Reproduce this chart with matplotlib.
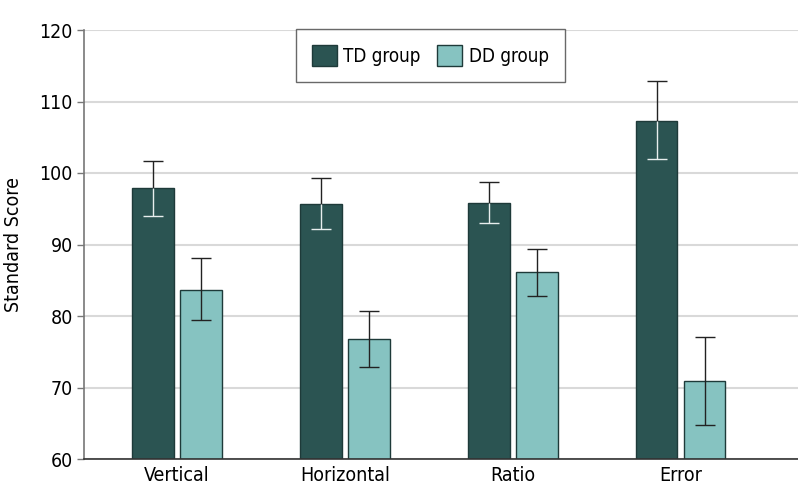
import matplotlib.pyplot as plt
import numpy as np

plt.rcParams['font.family'] = ['DejaVu Sans']
plt.rcParams['font.stretch'] = 'condensed'

categories = ['Vertical', 'Horizontal', 'Ratio', 'Error']
td_mean = [97.9, 95.7, 95.8, 107.3]
td_upper = [101.7, 99.3, 98.7, 112.8]
td_lower = [94.0, 92.2, 93.0, 101.9]
dd_mean = [83.7, 76.8, 86.1, 70.9]
dd_upper = [88.1, 80.7, 89.4, 77.1]
dd_lower = [79.5, 72.8, 82.8, 64.7]

td_color = '#2b5452'
dd_color = '#86c3c1'
edge = '#1e3a39'
dark = '#222222'
light = '#e8eeee'

fig = plt.figure(figsize=(7.98, 5.04), dpi=100)
ax = fig.add_axes([84 / 798, 45 / 504, 1 - 84 / 798, 429 / 504])

x = np.arange(len(categories))
w = 0.25
off = 0.143

td = np.array(td_mean)
dd = np.array(dd_mean)
ax.bar(x - off, td - 60, w, bottom=60, color=td_color, edgecolor=edge, linewidth=1, label='TD group', zorder=2)
ax.bar(x + off, dd - 60, w, bottom=60, color=dd_color, edgecolor=edge, linewidth=1, label='DD group', zorder=2)

# TD error bars: dark above the bar, light inside it
ax.vlines(x - off, td, td_upper, color=dark, linewidth=1, zorder=3)
ax.plot(x - off, td_upper, ls='none', marker='_', ms=15, mew=1, color=dark, zorder=3)
ax.vlines(x - off, td_lower, td, color=light, linewidth=1, zorder=3)
ax.plot(x - off, td_lower, ls='none', marker='_', ms=15, mew=1, color=light, zorder=3)
# DD error bars
ax.vlines(x + off, dd_lower, dd_upper, color=dark, linewidth=1, zorder=3)
ax.plot(x + off, dd_upper, ls='none', marker='_', ms=15, mew=1, color=dark, zorder=3)
ax.plot(x + off, dd_lower, ls='none', marker='_', ms=15, mew=1, color=dark, zorder=3)

fs = 14
ax.set_ylim(60, 120)
ax.set_yticks(range(60, 121, 10))
ax.set_xlim(-0.554, 3.70)
ax.set_xticks(x)
ax.set_xticklabels(categories, fontsize=fs)
ax.tick_params(axis='x', length=0, pad=5)
ax.tick_params(axis='y', labelsize=fs, length=5, color='#777777', width=1, pad=3)
ax.set_ylabel('Standard Score', fontsize=fs, labelpad=12)

ax.yaxis.grid(True, color='#d9d9d9', linewidth=1.5, zorder=0)
ax.set_axisbelow(True)
for s in ['top', 'right']:
    ax.spines[s].set_visible(False)
ax.spines['left'].set_color('#777777')
ax.spines['left'].set_linewidth(1.2)
ax.spines['bottom'].set_color('#333333')
ax.spines['bottom'].set_linewidth(1.2)

leg = ax.legend(loc='upper center', bbox_to_anchor=(0.485, 1.002), ncol=2, fontsize=13.5,
                frameon=True, fancybox=False, edgecolor='#444444', handlelength=1.33,
                handleheight=1.33, columnspacing=0.9, handletextpad=0.35, borderpad=0.85,
                borderaxespad=0)
leg.get_frame().set_linewidth(1)

fig.savefig('out.png', dpi=100)
